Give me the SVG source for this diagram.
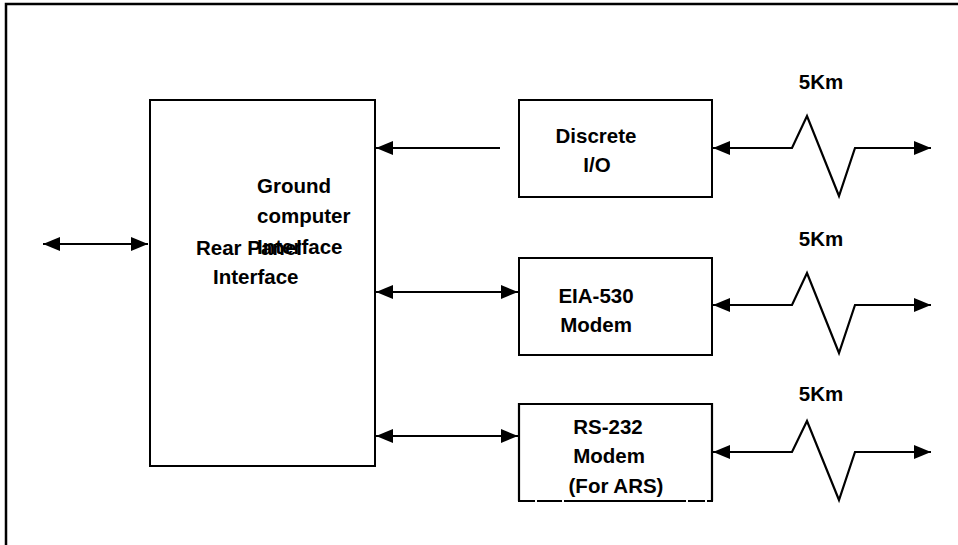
<svg xmlns="http://www.w3.org/2000/svg" width="958" height="545" viewBox="0 0 958 545">
<defs>
<style>
.box{fill:#fff;stroke:#000;stroke-width:2}
.ln{fill:none;stroke:#000;stroke-width:2.2}
.t{font-family:"Liberation Sans",Arial,sans-serif;font-weight:bold;font-size:20.5px;fill:#000}
.m{text-anchor:middle}
</style>
<marker id="ah" viewBox="0 0 17 14" refX="17" refY="7" markerWidth="17" markerHeight="14" markerUnits="userSpaceOnUse" orient="auto-start-reverse">
<path d="M0,0 L17,7 L0,14 Z" fill="#000"/>
</marker>
</defs>
<rect width="958" height="545" fill="#fff"/>
<rect x="6" y="4" width="1000" height="600" fill="none" stroke="#000" stroke-width="2.5"/>

<g id="rear-panel">
<rect class="box" x="150" y="100" width="225" height="366"/>
<text class="t" x="257" y="193">Ground</text>
<text class="t" x="257" y="223">computer</text>
<text class="t" x="257" y="254">Interface</text>
<text class="t" x="196" y="255">Rear Panel</text>
<text class="t" x="213" y="284">Interface</text>
</g>

<g id="discrete-io">
<rect class="box" x="519" y="100" width="193" height="97"/>
<text class="t m" x="596" y="143">Discrete</text>
<text class="t m" x="597" y="172">I/O</text>
</g>

<g id="eia530">
<rect class="box" x="519" y="258" width="193" height="97"/>
<text class="t m" x="596" y="303">EIA-530</text>
<text class="t m" x="596" y="332">Modem</text>
</g>

<g id="rs232">
<path class="ln" d="M519,501 L519,404 L712,404 L712,501"/>
<path class="ln" d="M518,501 H535 M537,501 H562 M564,501 H686 M688,501 H705 M707,501 H713"/>
<text class="t m" x="608" y="434">RS-232</text>
<text class="t m" x="609" y="463">Modem</text>
<text class="t m" x="616" y="493">(For ARS)</text>
</g>

<g id="labels">
<text class="t m" x="821" y="89">5Km</text>
<text class="t m" x="821" y="246">5Km</text>
<text class="t m" x="821" y="401">5Km</text>
</g>

<g id="connectors">
<path class="ln" d="M43,244 H148" marker-start="url(#ah)" marker-end="url(#ah)"/>
<path class="ln" d="M500,148 H376" marker-end="url(#ah)"/>
<path class="ln" d="M376,292 H518" marker-start="url(#ah)" marker-end="url(#ah)"/>
<path class="ln" d="M376,436 H518" marker-start="url(#ah)" marker-end="url(#ah)"/>
<path class="ln" d="M713,148 H792 L807,116 L839,196 L855,148 H931" marker-start="url(#ah)" marker-end="url(#ah)"/>
<path class="ln" d="M713,305 H792 L807,273 L839,353 L855,305 H931" marker-start="url(#ah)" marker-end="url(#ah)"/>
<path class="ln" d="M713,452 H792 L807,421 L839,500 L855,452 H931" marker-start="url(#ah)" marker-end="url(#ah)"/>
</g>
</svg>
